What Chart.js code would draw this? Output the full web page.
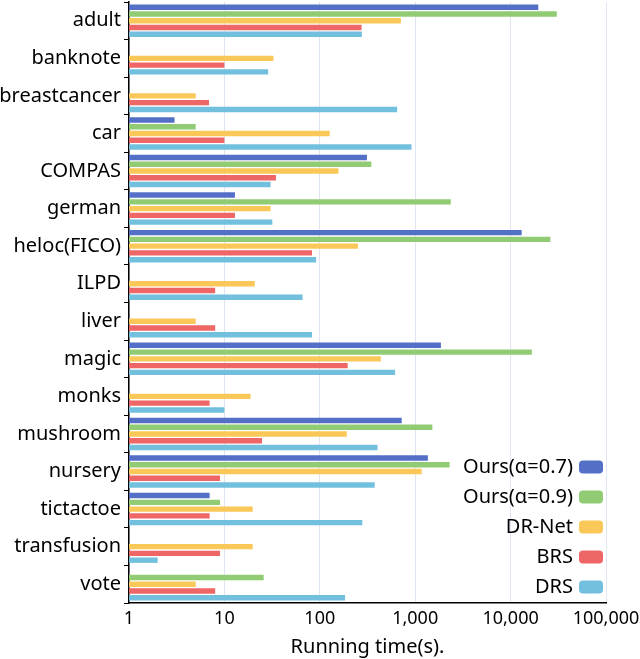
<!DOCTYPE html>
<html lang="en">
<head>
    <meta charset="UTF-8">
    <title>Running time</title>
    <script src="https://cdn.jsdelivr.net/npm/chart.js"></script>
    <style>
        body {
            margin: 0;
            padding: 0;
            background: #fff;
        }

        #chartContainer {
            width: 640px;
            height: 659px;
        }
    </style>
</head>
<body>
    <div id="chartContainer">
        <canvas id="chart"></canvas>
    </div>

    <script>
        // data (seconds, log scale)
        const datasetNames = ['adult', 'banknote', 'breastcancer', 'car', 'COMPAS', 'german', 'heloc(FICO)', 'ILPD',
            'liver', 'magic', 'monks', 'mushroom', 'nursery', 'tictactoe', 'transfusion', 'vote'];

        const ours07 = [19500, null, null, 3, 312, 12.9, 13060, null, null, 1860, null, 722, 1358, 7, null, null];
        const ours09 = [30500, null, null, 5, 347, 2360, 26100, null, null, 16700, null, 1514, 2295, 9, null, 25.8];
        const drNet = [708, 32.7, 5, 127, 157, 30.5, 251, 20.8, 5, 436, 18.8, 192, 1171, 19.8, 19.8, 5];
        const brs = [274, 10, 6.9, 10, 34.7, 12.9, 82.8, 8, 8, 196, 7, 24.8, 9, 7, 9, 8];
        const drs = [276, 28.8, 647, 915, 30.5, 31.8, 91.5, 66, 83, 616, 10, 403, 376, 279, 2, 184];

        const xTicks = [1, 10, 100, 1000, 10000, 100000];

        const seriesNames = ['Ours(α=0.7)', 'Ours(α=0.9)', 'DR-Net', 'BRS', 'DRS'];
        const colors = ['#5470c6', '#91cc75', '#fac858', '#ee6666', '#73c0de'];
        const fontFamily = '"Noto Sans", "DejaVu Sans", sans-serif';

        // legend drawn inside the plot, bottom right, text left of the box
        const insideLegend = {
            id: 'insideLegend',
            afterDraw(chart) {
                const ctx = chart.ctx;
                const boxRight = chart.chartArea.right - 3;
                const boxW = 24, boxH = 13;
                ctx.save();
                ctx.font = '20px ' + fontFamily;
                ctx.textAlign = 'right';
                ctx.textBaseline = 'middle';
                chart.data.datasets.forEach((ds, i) => {
                    const cy = 467 + i * 30;
                    ctx.fillStyle = ds.backgroundColor;
                    ctx.beginPath();
                    ctx.roundRect(boxRight - boxW, cy - boxH / 2, boxW, boxH, 4);
                    ctx.fill();
                    ctx.fillStyle = '#000';
                    ctx.fillText(ds.label, boxRight - boxW - 6, cy);
                });
                ctx.restore();
            }
        };

        const values = [ours07, ours09, drNet, brs, drs];

        const ctx = document.getElementById('chart').getContext('2d');
        new Chart(ctx, {
            type: 'bar',
            data: {
                labels: datasetNames,
                datasets: values.map((v, i) => ({
                    label: seriesNames[i],
                    data: v,
                    backgroundColor: colors[i],
                    borderWidth: 0,
                    barPercentage: 0.8,
                    categoryPercentage: 0.9
                }))
            },
            options: {
                indexAxis: 'y',
                responsive: true,
                maintainAspectRatio: false,
                animation: false,
                layout: {
                    padding: { left: 0, right: 34, top: 2, bottom: 0 }
                },
                plugins: {
                    legend: { display: false },
                    tooltip: { enabled: false }
                },
                scales: {
                    x: {
                        type: 'logarithmic',
                        min: 1,
                        max: 100000,
                        afterBuildTicks: s => {
                            s.ticks = xTicks.map(v => ({ value: v }));
                        },
                        afterFit: s => {
                            s.height = 56;
                            s.paddingLeft = 0;
                            s.paddingRight = 0;
                        },
                        ticks: {
                            autoSkip: false,
                            maxRotation: 0,
                            color: '#000',
                            padding: 5,
                            font: { family: fontFamily, size: 18 },
                            callback: v => Number(v).toLocaleString('en-US')
                        },
                        grid: {
                            color: '#e0e6f1',
                            drawTicks: false
                        },
                        border: { color: '#000', width: 1.5 },
                        title: {
                            display: true,
                            text: 'Running time(s).',
                            color: '#000',
                            padding: { top: 0, bottom: 0 },
                            font: { family: fontFamily, size: 20 }
                        }
                    },
                    y: {
                        afterFit: s => {
                            s.width = 129;
                            s.paddingTop = 0;
                            s.paddingBottom = 0;
                        },
                        ticks: {
                            color: '#000',
                            padding: 3,
                            font: { family: fontFamily, size: 20 }
                        },
                        grid: {
                            drawOnChartArea: false,
                            drawTicks: true,
                            tickLength: 5,
                            color: '#000',
                            offset: true
                        },
                        border: { color: '#000', width: 1.5 }
                    }
                }
            },
            plugins: [insideLegend]
        });
    </script>
</body>
</html>
